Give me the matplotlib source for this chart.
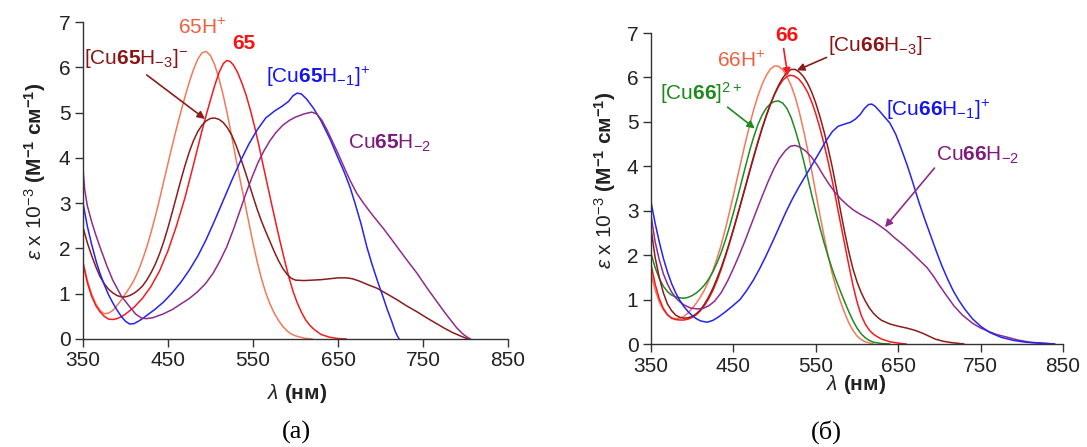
import matplotlib
matplotlib.use("Agg")
import matplotlib.pyplot as plt

plt.rcParams['font.family'] = ['Liberation Sans', 'DejaVu Sans']
plt.rcParams['mathtext.fontset'] = 'custom'
plt.rcParams['mathtext.rm'] = 'Liberation Sans'
plt.rcParams['mathtext.it'] = 'Liberation Sans:italic'
plt.rcParams['mathtext.bf'] = 'Liberation Sans:bold'

# ---------------- panel (a) data ----------------
a_65Hp_x = [350, 355, 360, 365, 370, 375, 380, 385, 390, 395, 400, 405, 410, 415, 420, 425, 430, 435, 440, 445, 450, 455, 460, 465, 470, 475, 480, 485, 490, 495, 500, 505, 510, 515, 520, 525, 530, 535, 540, 545, 550, 555, 560, 565, 570, 575, 580, 585, 590, 595, 600, 610, 620]
a_65Hp_y = [1.7, 1.3, 1.0, 0.78, 0.63, 0.56, 0.57, 0.63, 0.74, 0.86, 1.0, 1.14, 1.3, 1.5, 1.75, 2.03, 2.35, 2.7, 3.08, 3.48, 3.88, 4.27, 4.65, 5.01, 5.35, 5.67, 5.95, 6.18, 6.32, 6.35, 6.26, 6.05, 5.75, 5.38, 4.95, 4.47, 3.97, 3.5, 3.05, 2.58, 2.12, 1.7, 1.33, 1.02, 0.77, 0.57, 0.41, 0.28, 0.18, 0.11, 0.07, 0.02, 0.0]

a_65_x = [350, 355, 360, 365, 370, 375, 380, 385, 390, 395, 400, 410, 420, 430, 440, 450, 460, 470, 480, 490, 495, 500, 505, 510, 515, 519, 523, 527, 532, 537, 542, 547, 552, 557, 562, 567, 572, 577, 582, 587, 592, 597, 602, 607, 612, 617, 622, 630, 640, 650, 660]
a_65_y = [1.68, 1.25, 0.95, 0.74, 0.6, 0.5, 0.44, 0.43, 0.45, 0.49, 0.55, 0.7, 0.9, 1.16, 1.5, 1.95, 2.5, 3.12, 3.85, 4.6, 4.95, 5.28, 5.6, 5.88, 6.08, 6.15, 6.13, 6.05, 5.88, 5.65, 5.38, 5.05, 4.68, 4.27, 3.83, 3.4, 2.97, 2.55, 2.14, 1.75, 1.38, 1.06, 0.8, 0.59, 0.42, 0.3, 0.21, 0.1, 0.04, 0.01, 0.0]

a_CuH3_x = [350, 355, 360, 365, 370, 375, 380, 385, 390, 395, 400, 405, 410, 415, 420, 425, 430, 435, 440, 445, 450, 455, 460, 465, 470, 475, 480, 485, 490, 495, 500, 505, 510, 515, 520, 525, 530, 535, 540, 545, 550, 555, 560, 565, 570, 575, 580, 585, 590, 595, 600, 610, 620, 630, 640, 650, 660, 667, 675, 685, 696, 710, 720, 730, 743, 755, 765, 775, 785, 795, 803]
a_CuH3_y = [2.47, 2.13, 1.85, 1.6, 1.38, 1.22, 1.1, 1.02, 0.96, 0.93, 0.93, 0.96, 1.01, 1.08, 1.17, 1.3, 1.46, 1.65, 1.88, 2.15, 2.46, 2.8, 3.15, 3.5, 3.83, 4.13, 4.38, 4.58, 4.72, 4.82, 4.87, 4.88, 4.85, 4.78, 4.66, 4.5, 4.28, 4.02, 3.74, 3.45, 3.15, 2.86, 2.6, 2.37, 2.15, 1.93, 1.73, 1.56, 1.43, 1.34, 1.3, 1.29, 1.3, 1.31, 1.33, 1.35, 1.35, 1.33, 1.28, 1.2, 1.12, 0.97, 0.86, 0.74, 0.6, 0.46, 0.35, 0.24, 0.14, 0.06, 0.0]

a_CuH1_x = [350, 355, 360, 366, 370, 375, 380, 385, 390, 395, 400, 405, 410, 415, 420, 425, 435, 445, 455, 465, 475, 485, 495, 505, 515, 525, 535, 545, 555, 565, 575, 585, 592, 597, 602, 607, 613, 621, 630, 641, 650, 657, 664, 670, 677, 684, 690, 697, 703, 708, 713, 717, 720, 722]
a_CuH1_y = [3.0, 2.5, 2.1, 1.68, 1.45, 1.2, 0.98, 0.8, 0.64, 0.5, 0.39, 0.33, 0.34, 0.39, 0.45, 0.52, 0.66, 0.82, 1.02, 1.25, 1.52, 1.83, 2.2, 2.62, 3.06, 3.5, 3.92, 4.3, 4.62, 4.88, 5.03, 5.15, 5.25, 5.37, 5.43, 5.41, 5.3, 5.1, 4.82, 4.4, 4.0, 3.7, 3.36, 3.0, 2.55, 2.03, 1.65, 1.25, 0.93, 0.65, 0.4, 0.18, 0.06, 0.0]

a_CuH2_x = [350, 352, 355, 360, 365, 370, 378, 385, 395, 405, 412, 419, 425, 432, 444, 455, 464, 474, 484, 494, 503, 511, 519, 527, 535, 542, 549, 556, 563, 570, 577, 585, 593, 600, 610, 619, 625, 631, 637, 643, 650, 657, 664, 672, 680, 690, 703, 715, 730, 743, 755, 765, 775, 782, 790, 797, 802, 806]
a_CuH2_y = [3.75, 3.3, 2.95, 2.6, 2.3, 2.03, 1.62, 1.3, 0.95, 0.71, 0.55, 0.46, 0.45, 0.47, 0.55, 0.65, 0.76, 0.88, 1.03, 1.22, 1.45, 1.72, 2.03, 2.42, 2.85, 3.23, 3.58, 3.9, 4.16, 4.38, 4.56, 4.72, 4.83, 4.9, 4.97, 5.01, 4.97, 4.83, 4.62, 4.38, 4.1, 3.8, 3.51, 3.22, 3.0, 2.75, 2.45, 2.15, 1.77, 1.45, 1.12, 0.86, 0.6, 0.43, 0.24, 0.11, 0.04, 0.0]

# ---------------- panel (б) data ----------------
b_66Hp_x = [350, 355, 360, 365, 370, 375, 380, 385, 390, 395, 400, 405, 410, 415, 420, 425, 430, 435, 440, 445, 450, 455, 460, 465, 470, 475, 480, 485, 490, 495, 500, 505, 510, 515, 520, 525, 530, 535, 540, 545, 550, 555, 560, 565, 570, 575, 580, 585, 590, 595, 600, 605, 610, 620]
b_66Hp_y = [1.6, 1.22, 0.95, 0.77, 0.65, 0.59, 0.57, 0.58, 0.62, 0.7, 0.8, 0.92, 1.06, 1.22, 1.42, 1.65, 1.92, 2.22, 2.57, 2.95, 3.35, 3.76, 4.17, 4.57, 4.95, 5.3, 5.6, 5.85, 6.05, 6.19, 6.26, 6.25, 6.17, 6.02, 5.82, 5.56, 5.22, 4.82, 4.38, 3.9, 3.4, 2.9, 2.43, 1.98, 1.58, 1.24, 0.95, 0.7, 0.48, 0.31, 0.18, 0.1, 0.05, 0.0]

b_Cu66_x = [350, 355, 360, 365, 370, 375, 380, 385, 390, 395, 400, 405, 410, 415, 420, 425, 430, 435, 440, 445, 450, 455, 460, 465, 470, 475, 480, 485, 490, 495, 500, 505, 510, 515, 520, 525, 530, 535, 540, 545, 550, 555, 560, 565, 570, 575, 580, 585, 590, 595, 600, 605, 610, 615, 620, 630, 640]
b_Cu66_y = [2.04, 1.72, 1.48, 1.3, 1.18, 1.1, 1.06, 1.04, 1.03, 1.05, 1.09, 1.15, 1.23, 1.33, 1.46, 1.62, 1.82, 2.05, 2.32, 2.62, 2.95, 3.3, 3.66, 4.02, 4.37, 4.68, 4.95, 5.16, 5.31, 5.41, 5.46, 5.47, 5.42, 5.3, 5.1, 4.82, 4.5, 4.14, 3.75, 3.36, 2.98, 2.62, 2.28, 1.97, 1.68, 1.42, 1.18, 0.95, 0.73, 0.53, 0.36, 0.23, 0.14, 0.08, 0.04, 0.01, 0.0]

b_66_x = [350, 355, 360, 365, 370, 375, 380, 385, 390, 395, 400, 405, 410, 415, 420, 425, 430, 435, 440, 445, 450, 455, 460, 465, 470, 475, 480, 485, 490, 495, 500, 505, 510, 515, 519, 524, 529, 534, 540, 545, 550, 555, 560, 565, 570, 575, 580, 585, 590, 595, 600, 605, 610, 615, 620, 625, 630, 640, 650, 660]
b_66_y = [1.8, 1.35, 1.02, 0.8, 0.66, 0.58, 0.55, 0.54, 0.54, 0.56, 0.6, 0.66, 0.75, 0.87, 1.02, 1.2, 1.42, 1.67, 1.95, 2.25, 2.57, 2.9, 3.24, 3.58, 3.92, 4.25, 4.57, 4.87, 5.15, 5.4, 5.62, 5.8, 5.94, 6.02, 6.05, 6.03, 5.97, 5.86, 5.67, 5.45, 5.18, 4.86, 4.5, 4.1, 3.67, 3.2, 2.72, 2.25, 1.78, 1.33, 0.95, 0.65, 0.45, 0.31, 0.22, 0.16, 0.11, 0.05, 0.02, 0.0]

b_CuH3_x = [350, 355, 360, 365, 370, 375, 380, 385, 390, 395, 400, 405, 410, 415, 420, 425, 430, 435, 440, 445, 450, 455, 460, 465, 470, 475, 480, 485, 490, 495, 500, 505, 510, 515, 520, 525, 530, 535, 540, 545, 550, 555, 560, 565, 570, 575, 580, 585, 590, 595, 600, 605, 610, 615, 620, 625, 630, 640, 650, 660, 670, 680, 688, 695, 705, 715, 730]
b_CuH3_y = [2.6, 1.95, 1.5, 1.15, 0.9, 0.75, 0.65, 0.6, 0.58, 0.59, 0.62, 0.68, 0.77, 0.9, 1.06, 1.25, 1.47, 1.71, 1.98, 2.27, 2.58, 2.9, 3.23, 3.56, 3.9, 4.23, 4.55, 4.86, 5.14, 5.4, 5.63, 5.83, 5.99, 6.11, 6.18, 6.18, 6.12, 6.02, 5.87, 5.67, 5.42, 5.12, 4.78, 4.4, 3.98, 3.5, 3.0, 2.52, 2.08, 1.7, 1.4, 1.16, 0.97, 0.81, 0.69, 0.6, 0.53, 0.45, 0.4, 0.36, 0.31, 0.24, 0.17, 0.11, 0.06, 0.03, 0.0]

b_CuH2_x = [350, 355, 360, 365, 370, 375, 380, 385, 390, 398, 406, 413, 420, 427, 435, 443, 450, 457, 464, 471, 478, 485, 492, 499, 506, 513, 519, 525, 531, 538, 545, 552, 559, 566, 573, 580, 588, 596, 604, 612, 619, 627, 636, 645, 655, 665, 675, 685, 693, 700, 709, 718, 728, 740, 750, 760, 770, 781, 795, 810, 825, 840]
b_CuH2_y = [2.9, 2.3, 1.9, 1.58, 1.35, 1.17, 1.04, 0.95, 0.88, 0.81, 0.79, 0.8, 0.86, 0.96, 1.15, 1.42, 1.7, 2.0, 2.32, 2.66, 3.0, 3.33, 3.65, 3.94, 4.18, 4.35, 4.45, 4.47, 4.43, 4.34, 4.2, 4.02, 3.8, 3.6, 3.42, 3.27, 3.13, 3.01, 2.92, 2.84, 2.77, 2.67, 2.55, 2.4, 2.25, 2.08, 1.9, 1.72, 1.52, 1.32, 1.08, 0.85, 0.65, 0.47, 0.36, 0.28, 0.21, 0.16, 0.09, 0.04, 0.02, 0.0]

b_CuH1_x = [350, 355, 360, 365, 370, 375, 380, 385, 390, 395, 400, 405, 410, 418, 425, 432, 440, 448, 458, 466, 474, 482, 490, 498, 506, 514, 522, 530, 538, 546, 554, 562, 570, 577, 585, 592, 598, 604, 609, 614, 618, 622, 627, 633, 640, 647, 654, 661, 668, 675, 682, 689, 696, 703, 710, 717, 724, 731, 740, 750, 761, 775, 790, 805, 820, 840]
b_CuH1_y = [3.2, 2.72, 2.3, 1.93, 1.62, 1.36, 1.15, 0.98, 0.84, 0.73, 0.64, 0.57, 0.52, 0.49, 0.53, 0.61, 0.72, 0.84, 1.0, 1.2, 1.43, 1.7, 2.0, 2.32, 2.65, 2.98, 3.28, 3.55, 3.8, 4.05, 4.3, 4.56, 4.78, 4.9, 4.95, 4.99, 5.06, 5.17, 5.3, 5.39, 5.4, 5.35, 5.25, 5.12, 4.97, 4.72, 4.38, 4.02, 3.62, 3.2, 2.82, 2.46, 2.1, 1.76, 1.46, 1.19, 0.97, 0.78, 0.57, 0.4, 0.26, 0.15, 0.08, 0.04, 0.02, 0.0]

x_ticks = [350, 450, 550, 650, 750, 850]
y_ticks = [0, 1, 2, 3, 4, 5, 6, 7]

C_SALMON = '#F4785A'
C_RED = '#F51A1E'
C_DRED = '#8B1C1C'
C_BLUE = '#2424F2'
C_PURPLE = '#8E2C8E'
C_GREEN = '#1F8A1F'
T_SALMON = '#F0603E'
T_RED = '#FF1010'
T_DRED = '#8B1414'
T_BLUE = '#1414F0'
T_PURPLE = '#7E1A7E'
T_GREEN = '#1A8A1A'

fig = plt.figure(figsize=(10.87, 4.47), dpi=100)
axA = fig.add_axes([83/1087, 1-339/447, (508-83)/1087, (339-22)/447])
axB = fig.add_axes([651/1087, 1-344/447, (1063-651)/1087, (344-33)/447])

lw = 1.1
kw = dict(lw=lw, solid_joinstyle='round', solid_capstyle='round')
axA.plot(a_65Hp_x, a_65Hp_y, color=C_SALMON, **kw)
axA.plot(a_65_x, a_65_y, color=C_RED, **kw)
axA.plot(a_CuH3_x, a_CuH3_y, color=C_DRED, **kw)
axA.plot(a_CuH1_x, a_CuH1_y, color=C_BLUE, **kw)
axA.plot(a_CuH2_x, a_CuH2_y, color=C_PURPLE, **kw)

axB.plot(b_66Hp_x, b_66Hp_y, color=C_SALMON, **kw)
axB.plot(b_Cu66_x, b_Cu66_y, color=C_GREEN, **kw)
axB.plot(b_66_x, b_66_y, color=C_RED, **kw)
axB.plot(b_CuH3_x, b_CuH3_y, color=C_DRED, **kw)
axB.plot(b_CuH2_x, b_CuH2_y, color=C_PURPLE, **kw)
axB.plot(b_CuH1_x, b_CuH1_y, color=C_BLUE, **kw)

fs = 15
for ax in (axA, axB):
    ax.set_xlim(350, 850)
    ax.set_ylim(0, 7)
    ax.set_xticks(x_ticks)
    ax.set_yticks(y_ticks)
    ax.spines['top'].set_visible(False)
    ax.spines['right'].set_visible(False)
    for s in ('left', 'bottom'):
        ax.spines[s].set_color('#333333')
        ax.spines[s].set_linewidth(1.0)
    ax.tick_params(direction='out', length=6, width=1.0, color='#333333',
                   labelsize=fs, labelcolor='#222222', pad=3)
    ax.set_ylabel(r'$\varepsilon$ x 10$^{-3}$ $\mathbf{(M^{-1}\ см^{-1})}$',
                  fontsize=fs, va='center', color='#222222')
    ax.set_xlabel(r'$\lambda$ $\mathbf{(нм)}$', fontsize=fs, color='#222222')

axA.yaxis.set_label_coords(-0.113, 0.53)
axB.yaxis.set_label_coords(-0.112, 0.527)
axA.xaxis.set_label_coords(0.5035, -0.136)
axB.xaxis.set_label_coords(0.4976, -0.093)

def arrow(ax, xy, xytext, color):
    ax.annotate('', xy=xy, xytext=xytext,
                arrowprops=dict(arrowstyle='-|>', color=color, lw=1.2,
                                mutation_scale=11, shrinkA=0, shrinkB=0))

# panel (a) labels
axA.text(490, 6.87, r'65H$^{+}$', color=T_SALMON, fontsize=fs, ha='center', va='center')
axA.text(539, 6.53, '65', color=T_RED, fontsize=fs, fontweight='bold', ha='center', va='center')
axA.text(412, 6.2, r'[Cu$\mathbf{65}$H$_{-3}$]$^{-}$', color=T_DRED, fontsize=fs, ha='center', va='center')
arrow(axA, (493.5, 4.86), (425, 5.83), C_DRED)
axA.text(626, 5.78, r'[Cu$\mathbf{65}$H$_{-1}$]$^{+}$', color=T_BLUE, fontsize=fs, ha='center', va='center')
axA.text(711, 4.33, r'Cu$\mathbf{65}$H$_{-2}$', color=T_PURPLE, fontsize=fs, ha='center', va='center')

# panel (б) labels
axB.text(460, 6.38, r'66H$^{+}$', color=T_SALMON, fontsize=fs, ha='center', va='center')
axB.text(515, 6.94, '66', color=T_RED, fontsize=fs, fontweight='bold', ha='center', va='center')
arrow(axB, (516, 6.04), (511, 6.65), C_RED)
axB.text(628, 6.72, r'[Cu$\mathbf{66}$H$_{-3}$]$^{-}$', color=T_DRED, fontsize=fs, ha='center', va='center')
arrow(axB, (527, 6.16), (563, 6.45), C_DRED)
axB.text(411, 5.64, r'[Cu$\mathbf{66}$]$^{2+}$', color=T_GREEN, fontsize=fs, ha='center', va='center')
arrow(axB, (476, 4.85), (443, 5.33), C_GREEN)
axB.text(698, 5.26, r'[Cu$\mathbf{66}$H$_{-1}$]$^{+}$', color=T_BLUE, fontsize=fs, ha='center', va='center')
axB.text(746, 4.25, r'Cu$\mathbf{66}$H$_{-2}$', color=T_PURPLE, fontsize=fs, ha='center', va='center')
arrow(axB, (634, 2.63), (694, 3.96), C_PURPLE)

fig.text(296/1087, 1-432/447, '(a)', family='Liberation Serif', fontsize=19, ha='center', va='center')
fig.text(826/1087, 1-432/447, '(б)', family='Liberation Serif', fontsize=19, ha='center', va='center')

fig.savefig('out.png', dpi=100)
